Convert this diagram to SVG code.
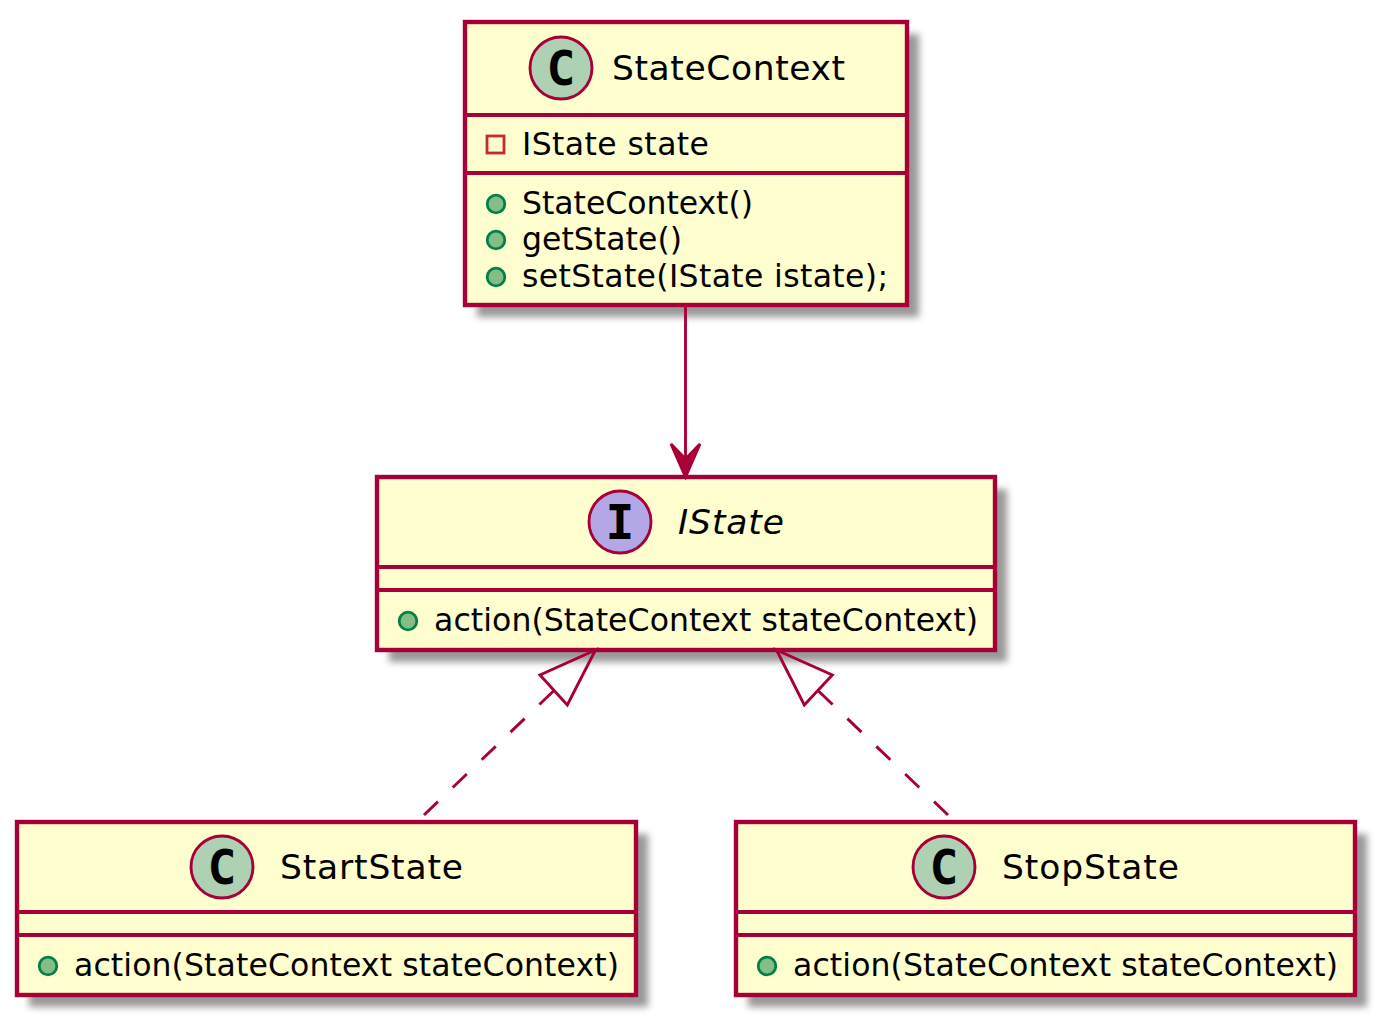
<svg xmlns="http://www.w3.org/2000/svg" width="1383" height="1023" viewBox="0 0 1383 1023">
<style>
.box{fill:#FEFECE;stroke:#A80036;stroke-width:4.4}
.shadow{fill:#000;fill-opacity:.4;filter:url(#blur)}
.sep{stroke:#A80036;stroke-width:4.2;fill:none}
.spot{stroke:#A80036;stroke-width:2.9}
.t{font-family:"DejaVu Sans",sans-serif;font-size:31.5px;fill:#000}
.h{font-family:"DejaVu Sans",sans-serif;font-size:34.5px;fill:#000}
.g{font-family:"DejaVu Sans Mono",monospace;font-weight:bold;font-size:48px;fill:#000;text-anchor:middle}
.pub{fill:#84BE84;stroke:#038048;stroke-width:2.8}
.priv{fill:none;stroke:#C82930;stroke-width:2.8}
.edge{stroke:#A80036;stroke-width:2.9;fill:none}
.dash{stroke-dasharray:19.5 20.5}
</style>
<defs><filter id="blur" x="-10%" y="-15%" width="120%" height="130%"><feGaussianBlur stdDeviation="3.5"/></filter></defs>
<g id="StateContext">
<rect class="shadow" x="477" y="34" width="442" height="283"/>
<rect class="box" x="465" y="22" width="442" height="283"/>
<path class="sep" d="M465 115H907M465 173H907"/>
<circle class="spot" cx="561" cy="68" r="31" fill="#ADD1B2"/>
<text class="g" x="561" y="85">C</text>
<text class="h" x="612" y="79.5" textLength="233">StateContext</text>
<rect class="priv" x="487" y="136" width="17" height="17"/>
<text class="t" x="522" y="154.5" textLength="187">IState state</text>
<circle class="pub" cx="496" cy="204" r="8.8"/>
<text class="t" x="522" y="214" textLength="231">StateContext()</text>
<circle class="pub" cx="496" cy="240" r="8.8"/>
<text class="t" x="522" y="250" textLength="160">getState()</text>
<circle class="pub" cx="496" cy="277" r="8.8"/>
<text class="t" x="522" y="286.5" textLength="366">setState(IState istate);</text>
</g>
<g id="IState">
<rect class="shadow" x="389" y="489" width="618" height="173"/>
<rect class="box" x="377" y="477" width="618" height="173"/>
<path class="sep" d="M377 567H995M377 590H995"/>
<circle class="spot" cx="620" cy="522" r="31" fill="#B4A7E5"/>
<text class="g" x="620" y="539">I</text>
<text class="h" x="678" y="534" font-style="italic" textLength="106">IState</text>
<circle class="pub" cx="408" cy="621" r="8.8"/>
<text class="t" x="434" y="631" textLength="544">action(StateContext stateContext)</text>
</g>
<g id="StartState">
<rect class="shadow" x="29" y="834" width="619" height="173"/>
<rect class="box" x="17" y="822" width="619" height="173"/>
<path class="sep" d="M17 912H636M17 935H636"/>
<circle class="spot" cx="222" cy="867" r="31" fill="#ADD1B2"/>
<text class="g" x="222" y="884">C</text>
<text class="h" x="280" y="879" textLength="183">StartState</text>
<circle class="pub" cx="48" cy="966" r="8.8"/>
<text class="t" x="74" y="976" textLength="545">action(StateContext stateContext)</text>
</g>
<g id="StopState">
<rect class="shadow" x="748" y="834" width="619" height="173"/>
<rect class="box" x="736" y="822" width="619" height="173"/>
<path class="sep" d="M736 912H1355M736 935H1355"/>
<circle class="spot" cx="944" cy="867" r="31" fill="#ADD1B2"/>
<text class="g" x="944" y="884">C</text>
<text class="h" x="1002" y="879" textLength="177">StopState</text>
<circle class="pub" cx="767" cy="966" r="8.8"/>
<text class="t" x="793" y="976" textLength="545">action(StateContext stateContext)</text>
</g>
<g id="connectors">
<path class="edge" d="M685.5 307V462"/>
<path d="M685.5 477L671 444L685.5 459L700 444Z" fill="#A80036" stroke="#A80036" stroke-width="2.9"/>
<path class="edge dash" d="M553.5 691L424 815"/>
<path class="edge" d="M595.5 650L540 675L567.3 705Z"/>
<path class="edge dash" d="M818.5 691L948 815"/>
<path class="edge" d="M776.5 650L832.3 675L804.3 705Z"/>
</g>
</svg>
